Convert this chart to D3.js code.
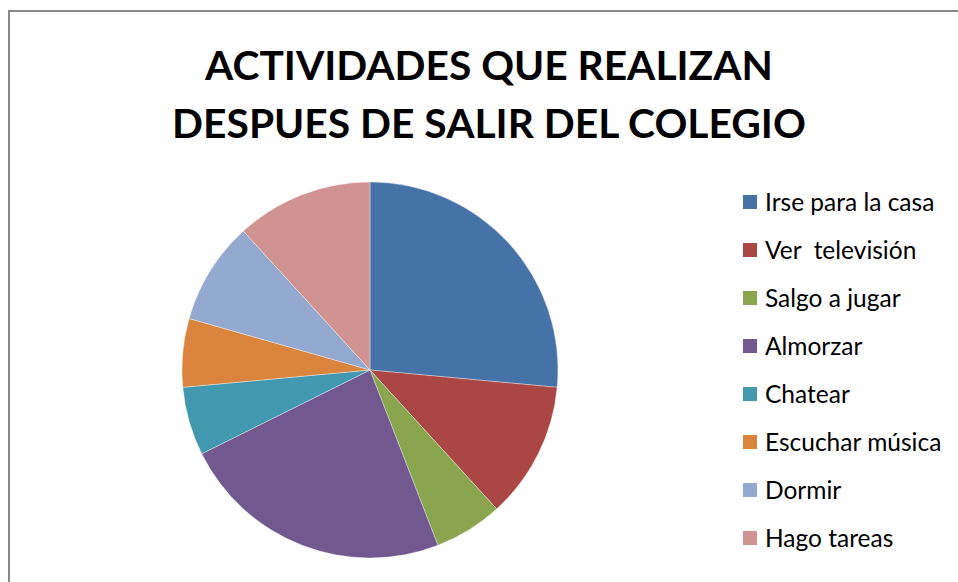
<!DOCTYPE html>
<html>
<head>
<meta charset="utf-8">
<script src="https://cdn.jsdelivr.net/npm/d3@7"></script>
<style>
  body { margin: 0; background: #fff; }
  svg { display: block; }
</style>
</head>
<body>
<div id="chart"></div>
<script>
// data
var categories = ["Irse para la casa", "Ver  televisión", "Salgo a jugar", "Almorzar",
  "Chatear", "Escuchar música", "Dormir", "Hago tareas"];
var values = [9, 4, 2, 8, 2, 2, 3, 4];
var colors = ["#4572A7", "#AA4643", "#89A54E", "#71588F", "#4198AF", "#DB843D", "#93A9CF", "#D19392"];
var titleLines = ["ACTIVIDADES QUE REALIZAN", "DESPUES DE SALIR DEL COLEGIO"];

var svgWidth = 958;
var svgHeight = 582;

var svg = d3.select("#chart")
  .append("svg")
  .attr("width", svgWidth)
  .attr("height", svgHeight);

// chart frame
svg.append("rect")
  .attr("x", 9)
  .attr("y", 11)
  .attr("width", 1000)
  .attr("height", 1000)
  .attr("fill", "none")
  .attr("stroke", "#888888")
  .attr("stroke-width", 2);

// title, fitted to the widths in the picture
var titleWidths = [568, 634];
titleLines.forEach((t, i) => {
  var txt = svg.append("text")
    .attr("x", 489)
    .attr("y", 80 + i * 58)
    .attr("text-anchor", "middle")
    .attr("font-family", "Lato, 'Open Sans', sans-serif")
    .attr("font-weight", "bold")
    .attr("font-size", "46px")
    .attr("fill", "#000")
    .text(t);
  var len = txt.node().getComputedTextLength();
  txt.attr("font-size", (46 * titleWidths[i] / len) + "px");
});

// pie
var radius = 188;
var pieGroup = svg.append("g")
  .attr("transform", "translate(370, 370)");

var color = d3.scaleOrdinal()
  .domain(categories)
  .range(colors);

var pie = d3.pie()
  .sort(null)
  .value(d => d.value);

var arc = d3.arc()
  .innerRadius(0)
  .outerRadius(radius);

var pieData = categories.map((c, i) => ({ name: c, value: values[i] }));

pieGroup.selectAll("path")
  .data(pie(pieData))
  .join("path")
  .attr("d", arc)
  .attr("fill", d => color(d.data.name))
  .attr("stroke", "#ffffff")
  .attr("stroke-opacity", 0.6)
  .attr("stroke-width", 0.6);

// legend
var legendY = d3.scalePoint()
  .domain(categories)
  .range([202, 538]);

var legend = svg.append("g");

legend.selectAll("rect")
  .data(categories)
  .join("rect")
  .attr("x", 743)
  .attr("y", d => legendY(d) - 7)
  .attr("width", 14)
  .attr("height", 14)
  .attr("fill", d => color(d));

legend.selectAll("text")
  .data(categories)
  .join("text")
  .attr("x", 765)
  .attr("y", d => legendY(d) + 8.5)
  .attr("font-family", "Lato, 'Open Sans', sans-serif")
  .attr("font-size", "24.5px")
  .attr("fill", "#000")
  .attr("xml:space", "preserve")
  .style("white-space", "pre")
  .text(d => d);
</script>
</body>
</html>
